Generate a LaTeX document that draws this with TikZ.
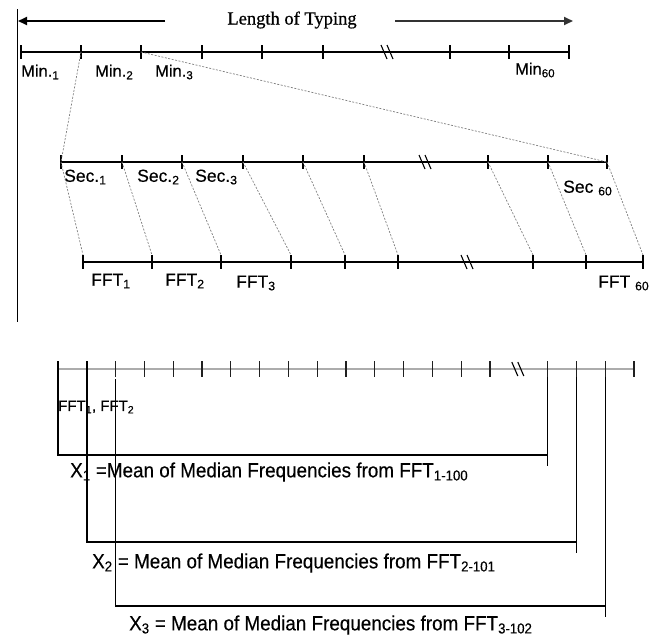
\documentclass[tikz,border=0pt]{standalone}
\usepackage{fontspec}
\setmainfont{Liberation Sans}
\newfontfamily\titlefont[FakeBold=0.6]{Liberation Serif}
\newfontfamily\labelsans[FakeBold=0.5]{Liberation Sans}
\newfontfamily\notesans[FakeStretch=0.92,FakeBold=0.3]{Liberation Sans}
\usetikzlibrary{arrows.meta,positioning,calc}

\newcommand\slashbrk[1]{\draw[tickmark] (#1) ++(-7,-7) -- ++(6,14) (#1) ++(-1,-7) -- ++(6,14);}

\begin{document}
\begin{tikzpicture}[x=1pt,y=-1pt,
    axis/.style={line width=1.5pt},
    tickmark/.style={line width=1.1pt},
    link/.style={gray,dash pattern=on 2pt off 1.5pt,line width=0.7pt},
    bracket/.style={line width=1.4pt},
    span/.style={line width=1.8pt,-{Triangle[length=9pt,width=8pt]}},
    lbl/.style={font=\labelsans\fontsize{16.5}{18}\selectfont,inner sep=0pt,anchor=west},
    big/.style={lbl,font=\labelsans\fontsize{17.5}{19}\selectfont},
    note/.style={font=\notesans\fontsize{20.5}{23}\selectfont,inner sep=0pt,anchor=west}]
  \useasboundingbox (0,0) rectangle (661,635);

  % length of typing
  \draw[line width=1pt] (17,9) -- (17,322);
  \node[font=\titlefont\fontsize{18.5}{20}\selectfont,inner sep=0pt] (title) at (292,20) {Length of Typing};
  \coordinate (aL0) at (165,21); \coordinate (aL) at (18,21);
  \coordinate (aR0) at (395,21); \coordinate (aR) at (573,21);
  \draw[span] (aL0) -- (aL);
  \draw[span,gray!40!black] (aR0) -- (aR);

  % minutes
  \foreach \x [count=\i] in {21,81,141,202,262,323,450,509,569}{
    \coordinate (m\i) at (\x,52);
    \draw[tickmark] (\x,45) -- (\x,59);
  }
  \draw[axis] (m1) -- (m9);
  \coordinate (mbrk) at (388,52); \slashbrk{mbrk}
  \node[lbl] (min1) at (21,72) {Min.\textsubscript{1}};
  \node[lbl] (min2) at (95,72) {Min.\textsubscript{2}};
  \node[lbl] (min3) at (155,72) {Min.\textsubscript{3}};
  \node[lbl] (min60) at (515,70) {Min\textsubscript{60}};

  % seconds
  \foreach \x [count=\i] in {61,122,182,243,303,364,488,548,607}{
    \coordinate (s\i) at (\x,162);
    \draw[tickmark] (\x,155) -- (\x,169);
  }
  \draw[axis] (s1) -- (s9);
  \coordinate (sbrk) at (426,162); \slashbrk{sbrk}
  \node[big] (sec1) at (64,177) {Sec.\textsubscript{1}};
  \node[big] (sec2) at (137,177) {Sec.\textsubscript{2}};
  \node[big] (sec3) at (195,177) {Sec.\textsubscript{3}};
  \node[big] (sec60) at (563,188) {Sec \textsubscript{60}};

  % FFT windows
  \foreach \x [count=\i] in {83,152,221,291,345,398,533,586,643}{
    \coordinate (f\i) at (\x,262);
    \draw[tickmark] (\x,255) -- (\x,269);
  }
  \draw[axis] (f1) -- (f9);
  \coordinate (fbrk) at (468,262); \slashbrk{fbrk}
  \node[big] (fft1) at (91,281) {FFT\textsubscript{1}};
  \node[big] (fft2) at (165,281) {FFT\textsubscript{2}};
  \node[big] (fft3) at (236,283) {FFT\textsubscript{3}};
  \node[big] (fft60) at (598,283) {FFT \textsubscript{60}};

  \draw[link] (m2) -- (s1);
  \draw[link] (m3) -- (s9);
  \foreach \i in {1,...,9}
    \draw[link] (s\i) -- ([yshift=7pt]f\i);

  % moving mean of median frequencies
  \foreach \k in {0,...,20}
    \coordinate (b\k) at ({58+28.8*\k},369);
  \draw[gray!65,line width=1.8pt] (b0) -- (b20);
  \foreach \k in {0,...,15,17,18,19,20}
    \draw[tickmark,gray!25!black] ([yshift=8pt]b\k) -- ([yshift=-8pt]b\k);
  \slashbrk{b16}
  \node[lbl,font=\labelsans\fontsize{15}{17}\selectfont] (ffts) at (58,407) {FFT\textsubscript{1}, FFT\textsubscript{2}};

  \coordinate (e1) at ($(b17)+(0,86)$);
  \coordinate (e2) at ($(b18)+(0,173)$);
  \coordinate (e3) at ($(b19)+(0,237)$);
  \draw[bracket] ([yshift=8pt]b0) |- (e1);
  \draw[bracket] ([yshift=-8pt]b17) -- ([yshift=-11pt]e1);
  \draw[bracket] ([yshift=8pt]b1) |- (e2);
  \draw[bracket] ([yshift=-8pt]b18) -- ([yshift=-11pt]e2);
  \draw[bracket] ([yshift=-10pt]b2) |- (e3);
  \draw[bracket] ([yshift=-8pt]b19) -- ([yshift=-11pt]e3);

  \node[note] (x1) at (70,472) {X\textsubscript{1} =Mean of Median Frequencies from FFT\textsubscript{1-100}};
  \node[note] (x2) at (92,563) {X\textsubscript{2} = Mean of Median Frequencies from FFT\textsubscript{2-101}};
  \node[note] (x3) at (129,625) {X\textsubscript{3} = Mean of Median Frequencies from FFT\textsubscript{3-102}};
\end{tikzpicture}
\end{document}
